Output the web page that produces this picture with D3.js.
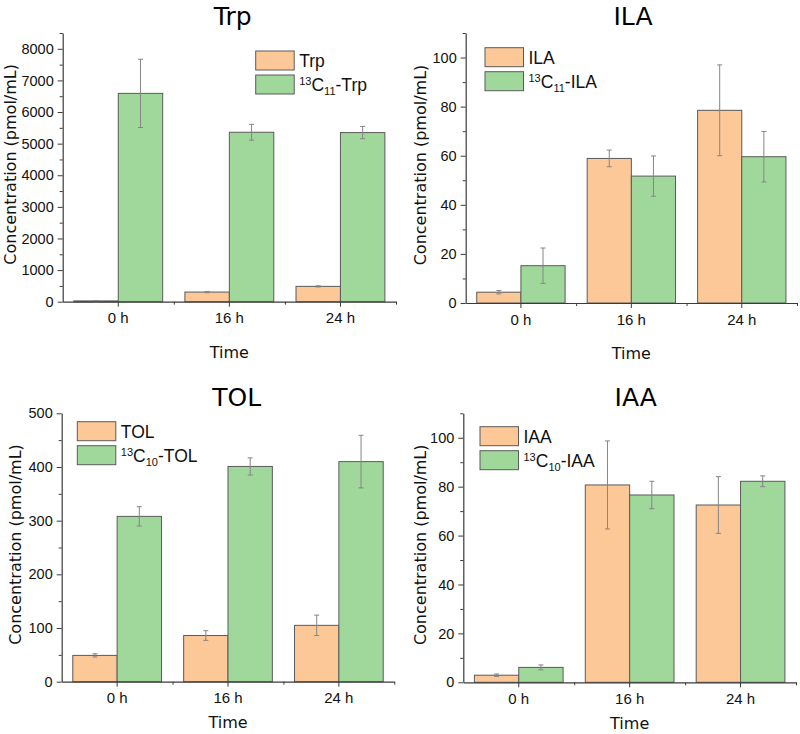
<!DOCTYPE html>
<html>
<head>
<meta charset="utf-8">
<script src="https://cdn.jsdelivr.net/npm/d3@7"></script>
<style>
  body { margin: 0; background: #fff; }
  svg { display: block; }
</style>
</head>
<body>
<svg id="chart" width="800" height="734"></svg>
<script>
// ---------------- DATA ----------------
const categories = ["0 h", "16 h", "24 h"];
const seriesKeys = ["native", "labeled"];

const trpNative = [25, 305, 485];
const trpNativeErr = [8, 20, 20];
const trpLabeled = [6590, 5360, 5350];
const trpLabeledErr = [1080, 250, 195];

const ilaNative = [4.4, 58.9, 78.5];
const ilaNativeErr = [0.7, 3.4, 18.5];
const ilaLabeled = [15.2, 51.7, 59.6];
const ilaLabeledErr = [7.2, 8.2, 10.3];

const tolNative = [49, 86, 105];
const tolNativeErr = [3, 9, 19];
const tolLabeled = [308, 401, 410];
const tolLabeledErr = [18, 16, 49];

const iaaNative = [2.9, 80.7, 72.5];
const iaaNativeErr = [0.5, 18, 11.6];
const iaaLabeled = [6.1, 76.6, 82.2];
const iaaLabeledErr = [1.0, 5.6, 2.2];

const trpTicks = [0, 1000, 2000, 3000, 4000, 5000, 6000, 7000, 8000];
const ilaTicks = [0, 20, 40, 60, 80, 100];
const tolTicks = [0, 100, 200, 300, 400, 500];
const iaaTicks = [0, 20, 40, 60, 80, 100];

const panels = [
  { title: "Trp", name: "Trp", iso: "11", native: trpNative, nativeErr: trpNativeErr,
    labeled: trpLabeled, labeledErr: trpLabeledErr, ticks: trpTicks, yMax: 8500, minorStep: 500,
    box: { x0: 62.7, x1: 396, yTop: 33, y0: 301.7 }, titleX: 232.7, titleY: 25,
    legend: { x: 255.7, y: 51 }, yLabelX: 10, xLabelY: 358 },
  { title: "ILA", name: "ILA", iso: "11", native: ilaNative, nativeErr: ilaNativeErr,
    labeled: ilaLabeled, labeledErr: ilaLabeledErr, ticks: ilaTicks, yMax: 110, minorStep: 10,
    box: { x0: 465.7, x1: 797, yTop: 33, y0: 303 }, titleX: 633, titleY: 25,
    legend: { x: 485, y: 47.7 }, yLabelX: 420, xLabelY: 359 },
  { title: "TOL", name: "TOL", iso: "10", native: tolNative, nativeErr: tolNativeErr,
    labeled: tolLabeled, labeledErr: tolLabeledErr, ticks: tolTicks, yMax: 500, minorStep: 50,
    box: { x0: 61.7, x1: 394.3, yTop: 413.3, y0: 681.7 }, titleX: 236.7, titleY: 406,
    legend: { x: 77.3, y: 421.7 }, yLabelX: 15.5, xLabelY: 728 },
  { title: "IAA", name: "IAA", iso: "10", native: iaaNative, nativeErr: iaaNativeErr,
    labeled: iaaLabeled, labeledErr: iaaLabeledErr, ticks: iaaTicks, yMax: 110, minorStep: 10,
    box: { x0: 463.3, x1: 796, yTop: 413.3, y0: 682.3 }, titleX: 635.7, titleY: 406,
    legend: { x: 480, y: 426.7 }, yLabelX: 420, xLabelY: 729 }
];

// ---------------- STYLE ----------------
const colors = { native: "#FCC898", labeled: "#A0D89C" };
const barStroke = "#5a5a5a";
const axisColor = "#3a3a3a";
const errColor = "#858585";
const titleFont = '"DejaVu Sans", Verdana, sans-serif';
const bodyFont = '"Liberation Sans", Arial, sans-serif';

const svg = d3.select("#chart");

function styleTicks(a, size) {
  a.attr("font-family", bodyFont).attr("font-size", size);
  a.selectAll("text").attr("font-family", bodyFont).attr("font-size", size).attr("fill", "#111");
}

panels.forEach(p => {
  const g = svg.append("g");
  const b = p.box;

  const x = d3.scaleBand().domain(categories).range([b.x0, b.x1])
    .paddingInner(0.2).paddingOuter(0.1);
  const xs = d3.scaleBand().domain(seriesKeys).range([0, x.bandwidth()]);
  const y = d3.scaleLinear().domain([0, p.yMax]).range([b.y0, b.yTop]);

  const rows = categories.map((c, i) => ({
    cat: c,
    values: [
      { key: "native", v: p.native[i], e: p.nativeErr[i] },
      { key: "labeled", v: p.labeled[i], e: p.labeledErr[i] }
    ]
  }));

  // bars
  const grp = g.selectAll("g.cat").data(rows).join("g")
    .attr("transform", d => `translate(${x(d.cat)},0)`);
  grp.selectAll("rect").data(d => d.values).join("rect")
    .attr("x", d => xs(d.key))
    .attr("y", d => y(d.v))
    .attr("width", xs.bandwidth())
    .attr("height", d => y(0) - y(d.v))
    .attr("fill", d => colors[d.key])
    .attr("stroke", barStroke)
    .attr("stroke-width", 1);

  // error bars
  const eb = grp.selectAll("g.err").data(d => d.values).join("g")
    .attr("stroke", errColor).attr("stroke-width", 1);
  eb.append("line")
    .attr("x1", d => xs(d.key) + xs.bandwidth() / 2)
    .attr("x2", d => xs(d.key) + xs.bandwidth() / 2)
    .attr("y1", d => y(d.v + d.e)).attr("y2", d => y(d.v - d.e));
  [1, -1].forEach(s => {
    eb.append("line")
      .attr("x1", d => xs(d.key) + xs.bandwidth() / 2 - 2.5)
      .attr("x2", d => xs(d.key) + xs.bandwidth() / 2 + 2.5)
      .attr("y1", d => y(d.v + s * d.e)).attr("y2", d => y(d.v + s * d.e));
  });

  // y axis minor ticks
  const minor = d3.range(p.minorStep, p.yMax + 1e-9, p.minorStep * 2);
  g.append("g").attr("transform", `translate(${b.x0},0)`)
    .call(d3.axisLeft(y).tickValues(minor).tickSize(3).tickFormat("").tickSizeOuter(0))
    .call(a => a.select(".domain").remove())
    .call(a => a.selectAll("line").attr("stroke", axisColor));
  // y axis major
  g.append("g").attr("transform", `translate(${b.x0},0)`)
    .call(d3.axisLeft(y).tickValues(p.ticks).tickFormat(d3.format("d")).tickSize(5).tickPadding(4).tickSizeOuter(0))
    .call(a => a.select(".domain").attr("stroke", axisColor).attr("stroke-width", 1.2))
    .call(a => a.selectAll("line").attr("stroke", axisColor))
    .call(a => styleTicks(a, 14.5));

  // x axis minor ticks at band boundaries
  const bounds = d3.scaleLinear().domain([0, categories.length]).range([b.x0, b.x1]);
  g.append("g").attr("transform", `translate(0,${b.y0})`)
    .call(d3.axisBottom(bounds).tickValues([1, 2, 3]).tickSize(3).tickFormat("").tickSizeOuter(0))
    .call(a => a.select(".domain").remove())
    .call(a => a.selectAll("line").attr("stroke", axisColor));
  // x axis major
  g.append("g").attr("transform", `translate(0,${b.y0})`)
    .call(d3.axisBottom(x).tickSize(5).tickPadding(6).tickSizeOuter(0))
    .call(a => a.select(".domain").attr("stroke", axisColor).attr("stroke-width", 1.2))
    .call(a => a.selectAll("line").attr("stroke", axisColor))
    .call(a => styleTicks(a, 15));

  // title
  g.append("text").attr("x", p.titleX).attr("y", p.titleY)
    .attr("text-anchor", "middle").attr("font-family", titleFont)
    .attr("font-size", 25).attr("fill", "#000").text(p.title);

  // y label
  const yMid = (b.y0 + b.yTop) / 2 - 3;
  g.append("text")
    .attr("transform", `translate(${p.yLabelX + 5.5},${yMid}) rotate(-90)`)
    .attr("text-anchor", "middle").attr("font-family", titleFont)
    .attr("font-size", 16).attr("fill", "#111").text("Concentration (pmol/mL)");

  // x label
  g.append("text").attr("x", (b.x0 + b.x1) / 2).attr("y", p.xLabelY)
    .attr("text-anchor", "middle").attr("font-family", titleFont)
    .attr("font-size", 16).attr("fill", "#111").text("Time");

  // legend
  const lg = g.append("g").attr("transform", `translate(${p.legend.x},${p.legend.y})`);
  const items = [
    { key: "native", parts: [{ t: p.name }] },
    { key: "labeled", parts: [{ t: "13", dy: -6, fs: 11 }, { t: "C", dy: 6 }, { t: p.iso, dy: 4, fs: 11 }, { t: "-" + p.name, dy: -4 }] }
  ];
  items.forEach((it, i) => {
    const row = lg.append("g").attr("transform", `translate(0,${i * 24})`);
    row.append("rect").attr("width", 38.5).attr("height", 19)
      .attr("fill", colors[it.key]).attr("stroke", barStroke).attr("stroke-width", 1);
    const t = row.append("text").attr("x", 43.5).attr("y", 16)
      .attr("font-family", bodyFont).attr("font-size", 17.5).attr("fill", "#111");
    it.parts.forEach(pt => {
      const ts = t.append("tspan").text(pt.t);
      if (pt.dy) ts.attr("dy", pt.dy);
      if (pt.fs) ts.attr("font-size", pt.fs);
    });
  });
});
</script>
</body>
</html>
